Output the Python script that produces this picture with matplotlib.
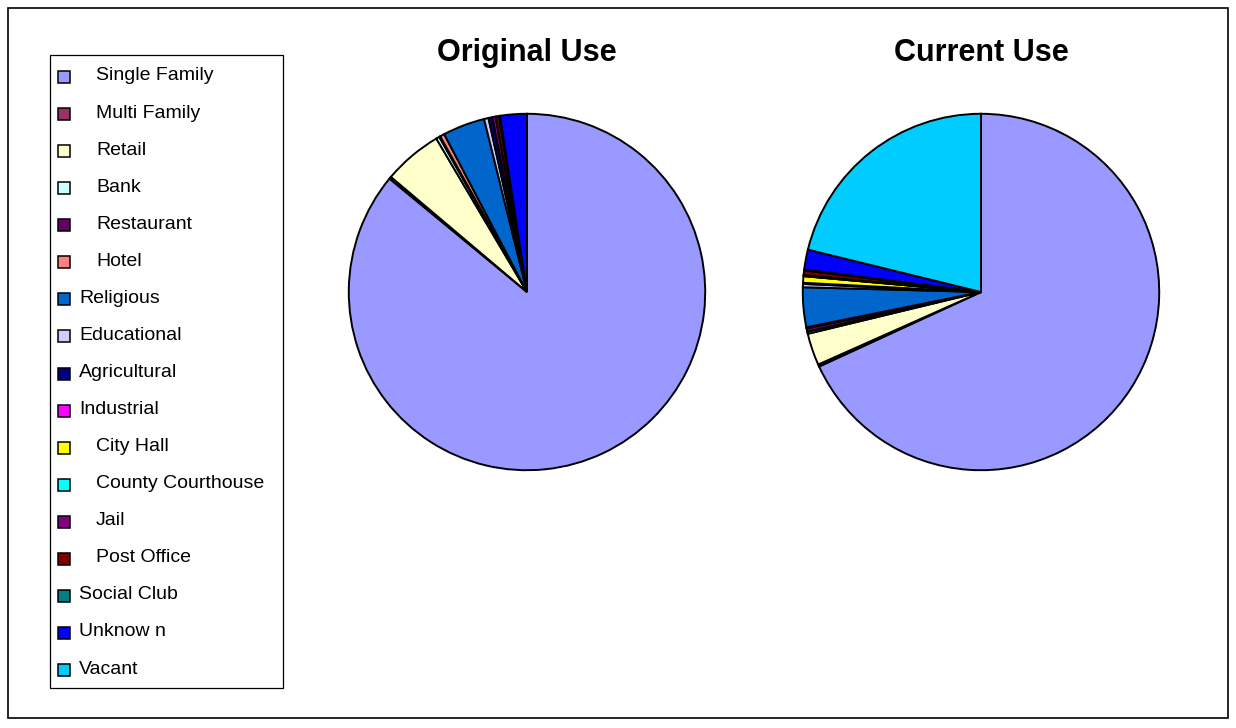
import matplotlib
matplotlib.use("Agg")
import matplotlib.pyplot as plt
from matplotlib.patches import Rectangle

plt.rcParams['font.family'] = ['Liberation Sans', 'DejaVu Sans']

# categories, in drawing order (clockwise from 12 o'clock)
categories = ["Single Family", "Multi Family", "Retail", "Bank", "Restaurant",
              "Hotel", "Religious", "Educational", "Agricultural", "Industrial",
              "City Hall", "County Courthouse", "Jail", "Post Office",
              "Social Club", "Unknow n", "Vacant"]
# share of buildings (%)
original_use = [85.5, 0.2, 5.3, 0.3, 0.1, 0.4, 3.8, 0.4, 0.35, 0.0,
                0.0, 0.0, 0.3, 0.3, 0.1, 2.4, 0.0]
current_use = [68.2, 0.2, 2.9, 0.2, 0.3, 0.1, 3.6, 0.3, 0.1, 0.0,
               0.6, 0.0, 0.1, 0.4, 0.1, 1.8, 21.2]
colors = ["#9999FF", "#993366", "#FFFFCC", "#CCFFFF", "#660066", "#FF8080",
          "#0066CC", "#CCCCFF", "#000080", "#FF00FF", "#FFFF00", "#00FFFF",
          "#800080", "#800000", "#008080", "#0000FF", "#00CCFF"]
# legend labels that Excel drew with a leading gap
indented = {"Single Family", "Multi Family", "Retail", "Bank", "Restaurant",
            "Hotel", "City Hall", "County Courthouse", "Jail", "Post Office"}

W, H = 1236, 728
fig = plt.figure(figsize=(W / 100, H / 100), dpi=100)

# overlay in pixel coordinates for the border and legend
bg = fig.add_axes([0, 0, 1, 1])
bg.set_xlim(0, W)
bg.set_ylim(H, 0)
bg.axis('off')
bg.add_patch(Rectangle((8, 8), 1220, 710, fill=False, ec='black', lw=1.2))

# legend box
bg.add_patch(Rectangle((50, 55), 233, 633, fill=False, ec='black', lw=0.9))
row0, step = 76, (668 - 75) / 16
for i, (lab, col) in enumerate(zip(categories, colors)):
    y = row0 + i * step
    bg.add_patch(Rectangle((58, y - 5), 12, 12, fc=col, ec='black', lw=1.1))
    x = 96 if lab in indented else 79
    bg.text(x, y, lab, fontsize=14, va='center', ha='left')


def draw_pie(cx, cy, r, values, title):
    ax = fig.add_axes([(cx - r) / W, (H - cy - r) / H, 2 * r / W, 2 * r / H])
    ax.pie(values, colors=colors, startangle=90, counterclock=False,
           wedgeprops=dict(edgecolor='black', linewidth=1.4))
    ax.set_xlim(-1.01, 1.01)
    ax.set_ylim(-1.01, 1.01)
    ax.set_aspect('auto')
    bg.text(cx, 53, title, fontsize=22, fontweight='bold',
            ha='center', va='center')


draw_pie(527, 292, 180, original_use, "Original Use")
draw_pie(981, 292, 180, current_use, "Current Use")

fig.savefig("out.png", dpi=100)
